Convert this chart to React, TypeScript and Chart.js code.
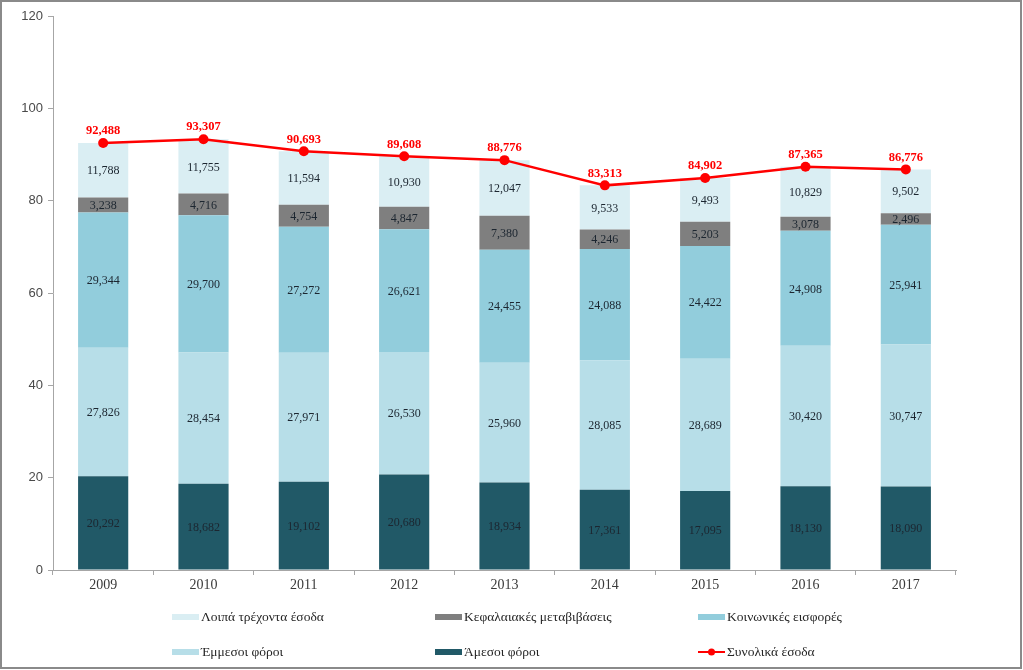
import React, { useEffect, useRef } from 'react';
import { Chart, registerables } from 'chart.js';

Chart.register(...registerables);

const years = ['2009', '2010', '2011', '2012', '2013', '2014', '2015', '2016', '2017'];
const directTaxes = [20.292, 18.682, 19.102, 20.68, 18.934, 17.361, 17.095, 18.13, 18.09];
const indirectTaxes = [27.826, 28.454, 27.971, 26.53, 25.96, 28.085, 28.689, 30.42, 30.747];
const socialContrib = [29.344, 29.7, 27.272, 26.621, 24.455, 24.088, 24.422, 24.908, 25.941];
const capitalTransfers = [3.238, 4.716, 4.754, 4.847, 7.38, 4.246, 5.203, 3.078, 2.496];
const otherRevenue = [11.788, 11.755, 11.594, 10.93, 12.047, 9.533, 9.493, 10.829, 9.502];
const totalRevenue = [92.488, 93.307, 90.693, 89.608, 88.776, 83.313, 84.902, 87.365, 86.776];
const yTickValues = [0, 20, 40, 60, 80, 100, 120];

const LBL_OTHER = 'Λοιπά τρέχοντα έσοδα';
const LBL_CAPITAL = 'Κεφαλαιακές μεταβιβάσεις';
const LBL_SOCIAL = 'Κοινωνικές εισφορές';
const LBL_INDIRECT = 'Έμμεσοι φόροι';
const LBL_DIRECT = 'Άμεσοι φόροι';
const LBL_TOTAL = 'Συνολικά έσοδα';

const C_OTHER = '#DAEEF3';
const C_CAPITAL = '#7F7F7F';
const C_SOCIAL = '#92CDDC';
const C_INDIRECT = '#B7DEE8';
const C_DIRECT = '#215967';
const C_TOTAL = '#FF0000';

const fmt = (v: number) => v.toFixed(3).replace('.', ',');

const SERIF = '"Liberation Serif", "DejaVu Serif", serif';
const SANS = '"Liberation Sans", Arial, sans-serif';

const labelsPlugin = {
  id: 'valueLabels',
  afterDatasetsDraw(chart: any) {
    const ctx = chart.ctx;
    ctx.save();
    ctx.textAlign = 'center';
    ctx.textBaseline = 'middle';
    chart.data.datasets.forEach((ds: any, di: number) => {
      const meta = chart.getDatasetMeta(di);
      meta.data.forEach((el: any, i: number) => {
        const v = ds.data[i];
        if (ds.type === 'line') {
          ctx.font = `bold 12.5px ${SERIF}`;
          ctx.fillStyle = C_TOTAL;
          ctx.fillText(fmt(v), el.x, el.y - 12);
        } else {
          ctx.font = `12px ${SERIF}`;
          ctx.fillStyle = '#1c2630';
          ctx.fillText(fmt(v), el.x, (el.y + el.base) / 2 + 1);
        }
      });
    });
    ctx.restore();
  },
};

const legendItems = [
  { label: LBL_OTHER, color: C_OTHER, kind: 'box', col: 0, row: 0 },
  { label: LBL_CAPITAL, color: C_CAPITAL, kind: 'box', col: 1, row: 0 },
  { label: LBL_SOCIAL, color: C_SOCIAL, kind: 'box', col: 2, row: 0 },
  { label: LBL_INDIRECT, color: C_INDIRECT, kind: 'box', col: 0, row: 1 },
  { label: LBL_DIRECT, color: C_DIRECT, kind: 'box', col: 1, row: 1 },
  { label: LBL_TOTAL, color: C_TOTAL, kind: 'line', col: 2, row: 1 },
];

const legendPlugin = {
  id: 'customLegend',
  afterDraw(chart: any) {
    const ctx = chart.ctx;
    const colX = [172, 435, 698];
    const rowY = [617, 652];
    ctx.save();
    legendItems.forEach((it) => {
      const x = colX[it.col];
      const y = rowY[it.row];
      if (it.kind === 'box') {
        ctx.fillStyle = it.color;
        ctx.fillRect(x, y - 3, 27, 6);
      } else {
        ctx.strokeStyle = it.color;
        ctx.lineWidth = 2;
        ctx.beginPath();
        ctx.moveTo(x, y);
        ctx.lineTo(x + 27, y);
        ctx.stroke();
        ctx.fillStyle = it.color;
        ctx.beginPath();
        ctx.arc(x + 13.5, y, 3.5, 0, Math.PI * 2);
        ctx.fill();
      }
      ctx.font = `13.5px ${SERIF}`;
      ctx.fillStyle = '#262626';
      ctx.textAlign = 'left';
      ctx.textBaseline = 'middle';
      ctx.fillText(it.label, x + 29, y);
    });
    ctx.restore();
  },
};

const framePlugin = {
  id: 'frame',
  beforeDraw(chart: any) {
    const ctx = chart.ctx;
    ctx.save();
    ctx.fillStyle = '#ffffff';
    ctx.fillRect(0, 0, chart.width, chart.height);
    ctx.restore();
  },
  afterDraw(chart: any) {
    const ctx = chart.ctx;
    ctx.save();
    ctx.strokeStyle = '#8a8a8a';
    ctx.lineWidth = 2;
    ctx.strokeRect(1, 1, chart.width - 3, chart.height - 3);
    ctx.restore();
  },
};

export default function App() {
  const ref = useRef<HTMLCanvasElement | null>(null);

  useEffect(() => {
    if (!ref.current) return;
    const barDs = (label: string, data: number[], color: string) => ({
      type: 'bar' as const,
      label,
      data,
      backgroundColor: color,
      borderWidth: 0,
      stack: 'rev',
      order: 1,
      categoryPercentage: 1,
      barPercentage: 0.5,
    });
    const chart = new Chart(ref.current, {
      type: 'bar',
      data: {
        labels: years,
        datasets: [
          barDs(LBL_DIRECT, directTaxes, C_DIRECT),
          barDs(LBL_INDIRECT, indirectTaxes, C_INDIRECT),
          barDs(LBL_SOCIAL, socialContrib, C_SOCIAL),
          barDs(LBL_CAPITAL, capitalTransfers, C_CAPITAL),
          barDs(LBL_OTHER, otherRevenue, C_OTHER),
          {
            type: 'line' as const,
            label: LBL_TOTAL,
            data: totalRevenue,
            borderColor: C_TOTAL,
            backgroundColor: C_TOTAL,
            borderWidth: 2.5,
            pointRadius: 5,
            pointBackgroundColor: C_TOTAL,
            pointBorderWidth: 0,
            stack: 'total',
            order: 0,
            tension: 0,
          } as any,
        ],
      },
      options: {
        responsive: false,
        animation: false,
        layout: { padding: { left: 0, right: 67, top: 16, bottom: 0 } },
        plugins: {
          legend: { display: false },
          tooltip: { enabled: false },
          title: { display: false },
        },
        scales: {
          x: {
            stacked: true,
            grid: {
              display: true,
              drawOnChartArea: false,
              drawTicks: true,
              tickLength: 5,
              color: '#a6a6a6',
              offset: true,
            },
            border: { display: true, color: '#a6a6a6', width: 1 },
            ticks: {
              color: '#3a3a3a',
              font: { family: SERIF, size: 14 },
              padding: 2,
            },
            afterFit: (s: any) => {
              s.height = 100;
            },
          },
          y: {
            stacked: true,
            min: 0,
            max: 120,
            afterBuildTicks: (s: any) => {
              s.ticks = yTickValues.map((v) => ({ value: v }));
            },
            grid: {
              display: true,
              drawOnChartArea: false,
              drawTicks: true,
              tickLength: 5,
              color: '#a6a6a6',
            },
            border: { display: true, color: '#a6a6a6', width: 1 },
            ticks: {
              color: '#4a4a4a',
              font: { family: SANS, size: 13 },
              padding: 5,
            },
            afterFit: (s: any) => {
              s.width = 53;
            },
          },
        },
      },
      plugins: [framePlugin, labelsPlugin, legendPlugin],
    });
    return () => chart.destroy();
  }, []);

  return (
    <div style={{ position: 'absolute', left: 0, top: 0, width: 1023, height: 670 }}>
      <canvas ref={ref} width={1023} height={670} style={{ display: 'block' }} />
    </div>
  );
}
